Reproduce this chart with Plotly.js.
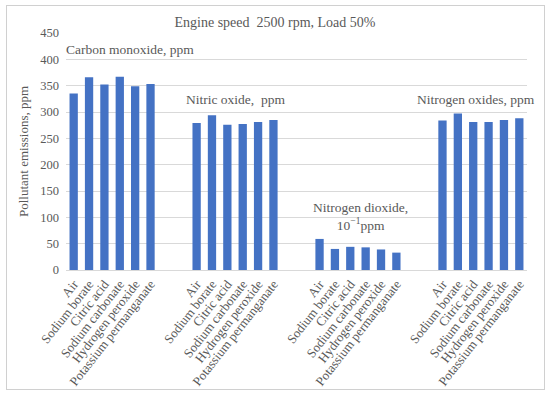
<!DOCTYPE html>
<html><head><meta charset="utf-8">
<script src="https://cdn.plot.ly/plotly-3.0.1.min.js"></script>
<style>
html,body{margin:0;padding:0;background:#fff;}
#wrap{position:relative;width:550px;height:396px;}
#chart{position:absolute;left:0;top:0;width:550px;height:396px;}
#frame{position:absolute;left:6px;top:5px;width:537px;height:383px;border:1px solid #d0d0d0;pointer-events:none;}
</style></head>
<body>
<div id="wrap"><div id="chart"></div><div id="frame"></div></div>
<script>
const additives = ["Air","Sodium borate","Citric acid","Sodium carbonate","Hydrogen peroxide","Potassium permanganate"];
const groupNames = ["Carbon monoxide, ppm","Nitric oxide,  ppm","Nitrogen dioxide,<br>10<sup>−1</sup>ppm","Nitrogen oxides, ppm"];
const carbonMonoxide = [335, 366, 352, 367, 349, 353];
const nitricOxide = [279, 294, 276, 277, 281, 285];
const nitrogenDioxide = [59, 40, 44, 43, 39, 33];
const nitrogenOxides = [284, 297, 281, 281, 285, 288];
const yTicks = [0,50,100,150,200,250,300,350,400,450];

const series = [carbonMonoxide, nitricOxide, nitrogenDioxide, nitrogenOxides];
const gap = 2;
const stride = additives.length + gap;
const xs = [], ys = [], tv = [], tt = [];
series.forEach((vals, g) => {
  vals.forEach((v, i) => {
    const x = g * stride + i;
    xs.push(x); ys.push(v); tv.push(x); tt.push(additives[i]);
  });
});
const nCats = series.length * additives.length + (series.length - 1) * gap;

const font = "Liberation Serif, Times New Roman, serif";
const grey = "#595959";

const annPos = [
  {xref: "paper", x: 0, xshift: -2, y: 418, xanchor: "left", yanchor: "middle"},
  {xref: "x", x: stride + 2.5, y: 323, xanchor: "center", yanchor: "middle"},
  {xref: "x", x: 2*stride + 2.5, xshift: 3, y: 101, xanchor: "center", yanchor: "middle"},
  {xref: "x", x: 3*stride + 2.5, xshift: -5, y: 323, xanchor: "center", yanchor: "middle"}
];
const annotations = groupNames.map((t, g) => Object.assign({
  text: t, yref: "y", showarrow: false,
  font: {family: font, size: 13.5, color: grey}
}, annPos[g]));

Plotly.newPlot("chart", [{
  type: "bar", x: xs, y: ys,
  marker: {color: "#4472C4"},
  width: 0.54,
  hoverinfo: "y"
}], {
  width: 550, height: 396,
  margin: {l: 66, r: 23, t: 33, b: 126},
  paper_bgcolor: "rgba(0,0,0,0)", plot_bgcolor: "rgba(0,0,0,0)",
  title: {text: "Engine speed  2500 rpm, Load 50%", font: {family: font, size: 14, color: grey},
          x: 0.5, xanchor: "center", y: 0.945, yanchor: "middle"},
  showlegend: false,
  xaxis: {range: [-0.5, nCats - 0.5], tickvals: tv, ticktext: tt, tickangle: -52,
          tickfont: {family: font, size: 13, color: grey}, showgrid: false, zeroline: false,
          showline: false, ticks: "", ticklabelstandoff: 3, fixedrange: true},
  yaxis: {range: [0, 450], tickvals: yTicks, tickfont: {family: font, size: 12.5, color: grey},
          gridcolor: "#d9d9d9", gridwidth: 1, zeroline: true, zerolinecolor: "#d9d9d9", zerolinewidth: 1,
          showline: false, ticks: "", ticklabelstandoff: 6,
          title: {text: "Pollutant emissions, ppm", font: {family: font, size: 13, color: grey}, standoff: 8}},
  annotations: annotations
}, {displayModeBar: false, staticPlot: true});
</script>
</body></html>
